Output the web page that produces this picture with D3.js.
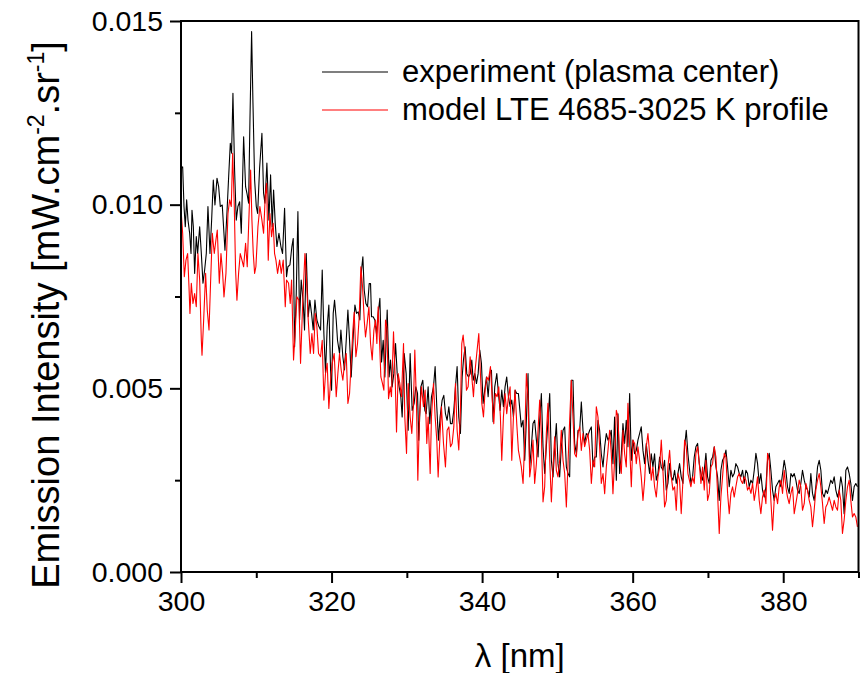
<!DOCTYPE html>
<html><head><meta charset="utf-8">
<script src="https://cdn.jsdelivr.net/npm/d3@7"></script>
<style>body{margin:0;background:#fff}svg text{font-family:"Liberation Sans",Arial,sans-serif;fill:#000}</style>
</head><body><svg id="c" width="861" height="673"></svg>
<script>
// ---- data ----
const xTicks = [300, 320, 340, 360, 380];
const xMinorTicks = [310, 330, 350, 370, 390];
// intensities are stored in µW.cm-2.sr-1 (= 1e-3 mW.cm-2.sr-1)
const yTicks = [0, 5, 10, 15];
const yTickLabels = ["0.000", "0.005", "0.010", "0.015"];
const yMinorTicks = [2.5, 7.5, 12.5];
const seriesNames = ["experiment (plasma center)", "model LTE 4685-3025 K profile"];
const seriesColors = ["#000000", "#ff0000"];

const expWl = [300.04,300.22,300.40,300.57,300.75,300.93,301.15,301.33,301.46,301.64,301.81,302.03,302.21,302.48,302.70,302.92,303.14,303.36,303.58,303.85,304.07,304.29,304.51,304.78,305.00,305.22,305.48,305.84,306.10,306.33,306.55,306.72,306.90,307.12,307.34,307.56,307.79,308.01,308.32,308.58,308.76,308.98,309.16,309.38,309.56,309.78,310.00,310.18,310.44,310.75,310.97,311.15,311.41,311.68,311.90,312.12,312.30,312.52,312.74,313.01,313.27,313.49,313.76,314.02,314.20,314.47,314.73,314.91,315.09,315.31,315.53,315.75,315.97,316.24,316.41,316.64,316.90,317.12,317.34,317.56,317.79,318.05,318.32,318.54,318.76,318.98,319.20,319.42,319.64,319.87,320.00,320.22,320.40,320.62,320.79,321.06,321.24,321.50,321.72,321.95,322.17,322.39,322.61,
322.83,323.10,323.32,323.54,323.76,323.98,324.16,324.34,324.56,324.78,325.00,325.18,325.31,325.53,325.75,325.97,326.19,326.42,326.64,326.86,327.08,327.39,327.65,327.83,328.05,328.27,328.50,328.72,328.98,329.20,329.38,329.65,329.91,330.18,330.44,330.71,330.97,331.19,331.42,331.59,331.86,332.12,332.39,332.57,332.83,333.05,333.27,333.54,333.76,333.98,334.20,334.42,334.69,334.91,335.13,335.35,335.58,335.80,336.02,336.24,336.46,336.68,336.90,337.12,337.35,337.52,337.74,337.96,338.19,338.41,338.63,338.81,339.03,339.25,339.47,339.69,339.91,340.13,340.35,340.58,340.80,341.02,341.24,341.46,341.68,341.95,342.17,342.39,342.61,342.83,343.05,343.27,343.50,343.72,343.94,344.16,344.38,344.60,344.82,
345.21,345.44,345.66,345.88,346.10,346.32,346.54,346.76,346.98,347.21,347.43,347.65,347.87,348.09,348.31,348.53,348.75,348.98,349.20,349.42,349.64,349.86,350.08,350.30,350.52,350.75,350.97,351.19,351.41,351.63,351.85,352.07,352.29,352.52,352.74,352.96,353.18,353.40,353.62,353.84,354.06,354.29,354.51,354.73,354.95,355.17,355.39,355.61,355.83,356.06,356.28,356.50,356.72,356.94,357.16,357.38,357.60,357.83,358.05,358.27,358.49,358.71,358.93,359.15,359.37,359.60,359.82,360.04,360.26,360.48,360.70,360.92,361.14,361.37,361.59,361.81,362.03,362.25,362.47,362.69,362.91,363.14,363.36,363.58,363.80,364.02,364.24,364.46,364.68,364.91,365.13,365.35,365.57,365.79,366.01,366.23,366.45,366.68,366.90,367.12,367.34,
367.74,367.96,368.18,368.40,368.63,368.85,369.07,369.29,369.51,369.73,369.95,370.17,370.40,370.62,370.84,371.06,371.28,371.50,371.72,371.94,372.17,372.39,372.61,372.83,373.05,373.27,373.49,373.71,373.94,374.16,374.38,374.60,374.82,375.04,375.26,375.48,375.71,375.93,376.15,376.37,376.59,376.81,377.03,377.25,377.48,377.70,377.92,378.14,378.36,378.58,378.80,379.02,379.25,379.47,379.69,379.91,380.13,380.35,380.57,380.79,381.02,381.24,381.46,381.68,381.90,382.12,382.34,382.56,382.79,383.01,383.23,383.45,383.67,383.89,384.11,384.33,384.56,384.78,385.00,385.22,385.44,385.66,385.88,386.10,386.32,386.55,386.77,386.99,387.21,387.43,387.65,387.87,388.09,388.32,388.54,388.76,388.98,389.20,389.42,389.64,389.86];
const expI = [10.99,11.03,9.95,9.40,10.13,9.58,9.22,8.67,9.85,9.40,8.13,9.13,8.67,9.40,8.67,7.86,8.22,8.67,9.95,8.67,9.58,10.67,9.99,10.72,10.49,9.95,9.99,8.76,9.76,10.76,11.67,11.40,13.03,10.94,9.58,9.95,10.08,9.22,11.85,10.49,10.31,10.04,12.31,14.71,12.76,10.67,9.95,9.76,10.99,11.94,10.31,10.04,11.13,9.58,10.81,9.40,10.40,9.49,8.86,9.22,8.86,8.67,9.90,8.04,8.31,8.36,8.86,9.08,6.13,7.58,9.81,6.86,7.95,7.31,6.59,8.67,6.95,7.40,7.04,6.59,7.40,6.86,6.68,6.59,8.22,6.49,5.41,6.68,7.27,5.50,4.95,7.04,7.40,6.86,6.31,5.95,6.59,5.86,5.50,6.31,7.13,6.31,5.31,
6.22,7.27,7.04,7.08,6.86,8.22,8.58,7.67,7.31,7.22,7.85,7.85,6.95,6.95,6.86,6.49,7.04,7.45,5.72,6.31,5.31,7.13,5.31,5.77,5.04,5.40,6.22,5.40,5.04,4.77,4.22,5.95,5.40,3.86,5.95,4.40,4.59,5.04,4.86,3.59,5.04,5.22,4.40,4.31,5.04,4.04,4.77,5.04,5.59,4.50,3.59,4.22,4.68,4.81,4.31,4.13,4.50,4.04,4.04,4.40,5.04,5.59,4.22,3.77,5.31,5.77,6.13,5.40,5.31,5.40,5.77,5.22,5.40,5.13,5.40,6.04,5.68,4.59,4.95,5.31,4.77,5.40,5.49,4.09,5.04,5.40,4.86,4.40,4.95,4.50,5.04,5.31,4.77,4.50,4.68,4.22,4.95,4.86,4.86,
3.95,4.13,3.04,4.13,5.40,2.86,3.41,4.04,4.13,3.59,3.13,4.13,4.86,3.41,2.68,3.41,4.13,4.86,3.04,2.59,3.41,4.04,2.95,2.59,3.41,3.86,3.95,2.86,2.68,2.59,5.22,5.22,3.50,3.22,3.86,3.86,4.63,3.86,3.50,3.77,3.72,3.86,3.95,2.86,3.13,3.13,4.13,3.86,3.22,2.86,3.41,3.77,3.59,3.68,3.86,2.95,4.22,2.50,4.31,2.68,3.22,4.04,3.50,4.13,3.41,4.86,3.04,3.59,3.22,3.31,3.59,3.77,3.95,3.31,2.95,3.50,3.04,2.68,3.22,2.86,3.22,2.50,2.68,3.13,2.86,2.77,3.04,2.23,2.41,2.95,2.59,2.50,2.77,2.41,2.68,2.95,2.59,2.41,3.41,3.86,3.22,
2.41,2.59,3.13,3.41,3.50,2.95,2.68,2.50,2.77,3.23,2.59,2.41,3.04,3.13,3.41,2.86,2.59,1.95,2.77,3.04,3.13,3.32,2.86,2.32,2.77,2.59,2.68,2.95,2.86,2.68,2.59,2.77,2.41,2.77,2.68,2.32,2.50,2.41,2.77,3.23,2.95,2.41,2.68,2.23,2.04,2.32,3.04,3.23,2.77,2.23,1.95,2.32,2.41,2.50,2.32,2.68,3.04,2.77,2.32,2.14,2.68,2.59,2.68,2.50,2.23,2.14,2.41,2.77,2.50,2.32,2.23,2.04,2.68,2.14,1.95,2.32,2.86,3.04,2.77,2.14,2.04,2.23,2.14,2.32,2.50,2.41,2.59,2.23,2.04,2.23,2.59,2.32,1.59,2.77,2.86,2.68,2.41,1.95,2.32,2.41,2.32];

const modWl = [300.04,300.22,300.44,300.66,300.88,301.06,301.19,301.37,301.59,301.81,302.03,302.25,302.48,302.70,302.79,303.01,303.27,303.49,303.72,303.94,304.16,304.42,304.64,304.82,305.09,305.31,305.53,305.71,305.97,306.24,306.46,306.68,306.86,307.08,307.25,307.43,307.65,307.87,308.10,308.32,308.58,308.80,308.98,309.25,309.42,309.60,309.78,309.95,310.22,310.48,310.75,310.97,311.19,311.37,311.59,311.81,312.03,312.25,312.43,312.61,312.83,313.10,313.32,313.58,313.85,314.02,314.29,314.51,314.69,314.95,315.18,315.40,315.66,315.88,316.15,316.46,316.68,316.90,317.17,317.39,317.61,317.83,318.05,318.27,318.54,318.76,318.98,319.20,319.42,319.64,319.87,320.09,320.35,320.62,320.84,321.06,321.28,321.50,321.72,321.95,322.17,322.39,
322.83,323.01,323.23,323.45,323.67,323.89,324.12,324.34,324.51,324.73,324.96,325.18,325.40,325.62,325.84,326.02,326.19,326.37,326.55,326.77,326.95,327.17,327.35,327.57,327.79,327.96,328.23,328.45,328.63,328.85,329.07,329.29,329.56,329.73,329.96,330.18,330.44,330.66,330.88,331.06,331.28,331.46,331.68,331.95,332.21,332.43,332.65,332.83,333.10,333.27,333.54,333.76,333.98,334.16,334.42,334.60,334.87,335.13,335.35,335.58,335.80,336.02,336.24,336.46,336.68,336.90,337.12,337.30,337.48,337.70,337.92,338.14,338.41,338.63,338.85,339.07,339.29,339.56,339.73,339.96,340.18,340.40,340.62,340.84,341.11,341.33,341.55,341.77,341.99,342.21,342.43,342.61,342.83,343.05,343.27,343.50,343.72,343.94,344.16,344.38,344.60,344.82,
345.21,345.44,345.66,345.88,346.10,346.32,346.54,346.76,346.98,347.21,347.43,347.65,347.87,348.09,348.31,348.53,348.75,348.98,349.20,349.42,349.64,349.86,350.08,350.30,350.52,350.75,350.97,351.19,351.41,351.63,351.85,352.07,352.29,352.52,352.74,352.96,353.18,353.40,353.62,353.84,354.06,354.29,354.51,354.73,354.95,355.17,355.39,355.61,355.83,356.06,356.28,356.50,356.72,356.94,357.16,357.38,357.60,357.83,358.05,358.27,358.49,358.71,358.93,359.15,359.37,359.60,359.82,360.04,360.26,360.48,360.70,360.92,361.14,361.37,361.59,361.81,362.03,362.25,362.47,362.69,362.91,363.14,363.36,363.58,363.80,364.02,364.24,364.46,364.68,364.91,365.13,365.35,365.57,365.79,366.01,366.23,366.45,366.68,366.90,367.12,367.34,
367.74,367.96,368.18,368.40,368.63,368.85,369.07,369.29,369.51,369.73,369.95,370.17,370.40,370.62,370.84,371.06,371.28,371.50,371.72,371.94,372.17,372.39,372.61,372.83,373.05,373.27,373.49,373.71,373.94,374.16,374.38,374.60,374.82,375.04,375.26,375.48,375.71,375.93,376.15,376.37,376.59,376.81,377.03,377.25,377.48,377.70,377.92,378.14,378.36,378.58,378.80,379.02,379.25,379.47,379.69,379.91,380.13,380.35,380.57,380.79,381.02,381.24,381.46,381.68,381.90,382.12,382.34,382.56,382.79,383.01,383.23,383.45,383.67,383.89,384.11,384.33,384.56,384.78,385.00,385.22,385.44,385.66,385.88,386.10,386.32,386.55,386.77,386.99,387.21,387.43,387.65,387.87,388.09,388.32,388.54,388.76,388.98,389.20,389.42,389.64,389.86];
const modI = [9.76,9.22,8.04,8.49,8.67,7.77,7.04,7.86,7.31,7.58,7.22,8.67,7.95,6.31,5.90,6.86,8.13,7.13,6.59,7.95,9.22,8.67,9.04,9.31,7.86,8.67,8.13,7.49,8.13,9.76,10.13,9.95,11.40,9.95,8.22,7.40,8.13,8.67,8.49,8.31,8.95,8.31,9.40,10.94,9.58,8.67,8.13,8.31,9.40,9.95,9.58,9.22,10.22,10.58,8.49,9.76,9.13,9.49,8.67,8.49,8.13,8.49,8.13,8.49,7.22,7.95,7.86,7.31,7.95,5.77,6.59,7.49,7.40,5.68,7.22,8.67,7.95,6.86,5.95,6.49,5.95,7.04,6.68,5.95,5.86,6.31,4.68,5.41,5.68,4.45,5.22,5.68,5.95,4.77,5.41,5.95,5.50,5.22,5.68,5.95,4.59,4.86,
6.58,7.08,5.86,6.22,6.95,8.31,7.76,6.86,6.40,6.77,7.22,6.22,5.77,6.58,6.86,6.22,7.22,6.31,5.31,5.13,4.95,6.86,6.67,4.72,5.04,4.77,6.54,5.31,3.81,5.40,5.13,4.77,6.22,4.22,3.23,5.13,4.22,3.77,4.59,6.04,4.59,2.50,4.22,5.04,4.50,4.95,3.50,4.22,2.68,4.22,5.13,4.22,3.59,2.59,3.77,4.50,3.50,2.86,3.86,3.95,3.41,3.50,3.95,5.13,3.86,3.32,4.40,6.22,6.45,5.95,4.95,5.04,5.86,5.31,4.77,5.49,5.95,6.49,5.59,4.59,4.22,4.95,5.31,5.22,5.59,4.77,4.04,4.86,4.77,5.04,4.22,3.04,4.22,4.86,4.31,4.77,5.04,3.04,4.22,4.95,4.04,3.32,
2.86,2.41,3.59,5.40,4.77,2.59,2.95,3.59,2.41,2.95,3.86,4.68,3.77,1.91,2.32,3.77,4.59,3.04,1.91,2.86,3.68,2.77,2.59,3.04,3.86,3.04,2.68,1.77,2.95,4.13,5.22,4.22,3.22,3.13,3.77,3.95,3.31,3.77,3.41,3.59,3.77,3.31,2.41,3.04,2.86,4.50,4.22,3.41,2.41,2.68,2.13,2.86,3.31,3.86,3.22,2.13,3.04,4.40,4.22,3.04,2.68,3.86,3.22,2.86,4.59,3.41,2.32,3.59,3.50,2.95,3.41,3.04,2.59,1.95,2.50,3.41,3.77,3.22,2.50,2.86,2.32,2.04,2.59,2.86,3.59,2.77,1.77,1.95,2.86,3.31,2.59,2.23,2.32,1.68,2.68,2.50,1.59,2.50,3.59,3.41,2.68,
2.32,2.59,2.41,3.23,3.41,2.95,2.41,2.86,2.23,3.04,1.95,2.14,2.86,2.95,3.41,3.13,2.14,1.05,2.04,2.59,3.23,3.13,2.14,1.59,2.14,2.32,2.04,2.32,2.59,2.68,2.50,2.41,2.59,2.50,2.23,2.32,2.14,2.41,1.95,2.23,2.59,1.95,1.59,2.04,2.23,1.86,3.23,3.04,1.95,1.14,1.95,2.14,1.86,2.32,2.50,2.14,2.77,2.32,2.04,1.86,2.14,2.32,1.59,1.86,2.14,2.50,2.32,1.68,1.86,2.41,2.23,1.95,1.77,1.23,1.68,2.23,2.50,2.68,2.32,1.86,1.32,1.77,1.86,2.04,1.86,1.68,1.95,1.77,1.68,2.23,1.95,1.05,1.41,1.95,2.32,2.50,1.95,1.50,1.59,1.50,1.23];

// ---- chart ----
const svg = d3.select("#c");
const m = {l: 181, r: 858.5, t: 21, b: 572};
const x = d3.scaleLinear().domain([300, 390]).range([m.l, m.r]);
const y = d3.scaleLinear().domain([0, 15]).range([m.b, m.t]);

svg.append("clipPath").attr("id", "clip").append("rect")
  .attr("x", m.l).attr("y", m.t).attr("width", m.r - m.l).attr("height", m.b - m.t);

const series = [
  {wl: expWl, v: expI, color: seriesColors[0]},
  {wl: modWl, v: modI, color: seriesColors[1]}
];
const line = d3.line().x(d => x(d[0])).y(d => y(d[1]));
const gLines = svg.append("g").attr("clip-path", "url(#clip)");
series.forEach(s => {
  gLines.append("path")
    .datum(s.wl.map((w, i) => [w, s.v[i]]))
    .attr("fill", "none").attr("stroke", s.color).attr("stroke-width", 1.1)
    .attr("stroke-linejoin", "round")
    .attr("d", line);
});

// axes
const fs = 28.5;
const xAxis = svg.append("g").attr("transform", `translate(0,${m.b})`)
  .call(d3.axisBottom(x).tickValues(xTicks).tickSize(11).tickSizeOuter(0).tickPadding(8).tickFormat(d3.format("d")));
const xMinor = svg.append("g").attr("transform", `translate(0,${m.b})`)
  .call(d3.axisBottom(x).tickValues(xMinorTicks).tickSize(6).tickSizeOuter(0).tickFormat(""));
const yAxis = svg.append("g").attr("transform", `translate(${m.l},0)`)
  .call(d3.axisLeft(y).tickValues(yTicks).tickSize(11).tickSizeOuter(0).tickPadding(7)
    .tickFormat((d, i) => yTickLabels[i]));
const yMinor = svg.append("g").attr("transform", `translate(${m.l},0)`)
  .call(d3.axisLeft(y).tickValues(yMinorTicks).tickSize(6).tickSizeOuter(0).tickFormat(""));
[xAxis, xMinor, yAxis, yMinor].forEach(g => {
  g.selectAll(".domain").remove();
  g.selectAll("line").attr("stroke", "#000").attr("stroke-width", 2);
  g.selectAll("text").style("font-size", fs + "px").attr("fill", "#000");
});

// frame
svg.append("rect").attr("x", m.l).attr("y", m.t).attr("width", m.r - m.l).attr("height", m.b - m.t)
  .attr("fill", "none").attr("stroke", "#000").attr("stroke-width", 2);

// axis titles
svg.append("text").attr("x", (m.l + m.r) / 2).attr("y", 667).attr("text-anchor", "middle")
  .style("font-size", "33px").text("λ [nm]");
const yfs = 38;
const yt = svg.append("text").attr("transform", `translate(59,315) rotate(-90)`)
  .attr("text-anchor", "middle").style("font-size", yfs + "px");
yt.append("tspan").text("Emission Intensity [mW.cm");
yt.append("tspan").attr("dy", -15).style("font-size", "23px").text("-2");
yt.append("tspan").attr("dy", 15).text(".sr");
yt.append("tspan").attr("dy", -15).style("font-size", "23px").text("-1");
yt.append("tspan").attr("dy", 15).text("]");

// legend
const lg = svg.append("g");
seriesNames.forEach((name, i) => {
  const ly = 72 + i * 38;
  lg.append("line").attr("x1", 322).attr("x2", 388).attr("y1", ly).attr("y2", ly)
    .attr("stroke", seriesColors[i]).attr("stroke-width", 1.1);
  lg.append("text").attr("x", 402).attr("y", ly + 9.5).style("font-size", "31px").text(name);
});
</script></body></html>
